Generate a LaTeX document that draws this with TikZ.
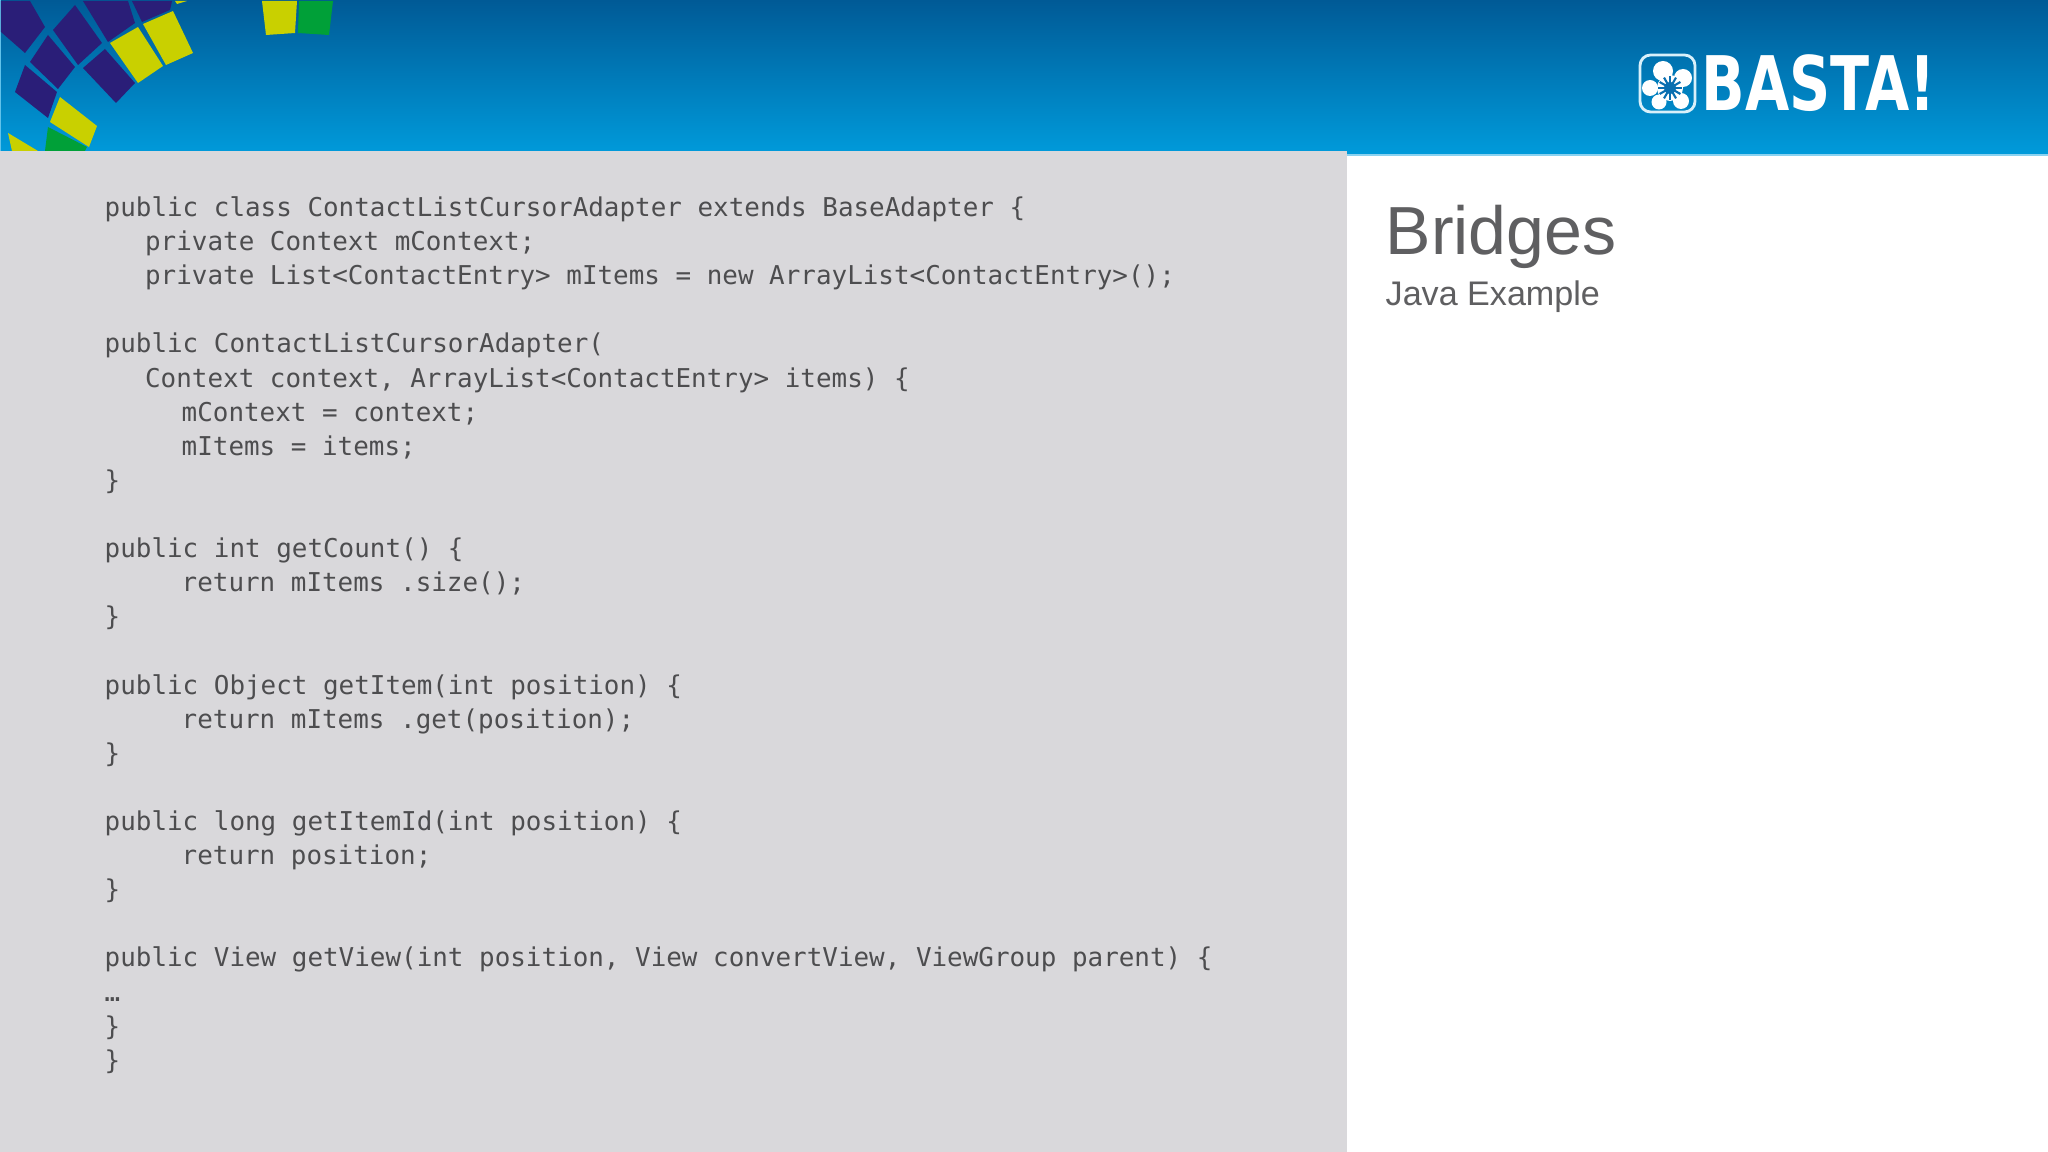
\documentclass[tikz,border=0pt]{standalone}
\usepackage{fontspec}
\setmainfont{Liberation Sans}
\setmonofont{DejaVu Sans Mono}
\newfontfamily\logofont{DejaVu Sans}
\definecolor{headtop}{HTML}{005A96}
\definecolor{headbot}{HTML}{009BDB}
\definecolor{headedge}{HTML}{8AD2F0}
\definecolor{panel}{HTML}{D9D8DB}
\definecolor{ink}{HTML}{4D4D4F}
\definecolor{navy}{HTML}{2A1E78}
\definecolor{lime}{HTML}{C9D000}
\definecolor{leaf}{HTML}{00A038}
\definecolor{logoblue}{HTML}{0A6FB0}
\tikzset{
	codetext/.style={anchor=north west,align=left,inner sep=0pt,text=ink,font=\ttfamily\fontsize{7.37}{9.7}\selectfont},
	titletext/.style={anchor=base west,inner sep=0pt,text=ink!90!white},
	petal/.style={fill=white,draw=none}
}
\newcommand{\indA}{\hspace*{11.5pt}}
\newcommand{\indB}{\hspace*{21.9pt}}
\begin{document}
\begin{tikzpicture}[x=0.01cm,y=-0.01cm]
	\useasboundingbox (0,0) rectangle (2048,1152);
	% header
	\shade[top color=headtop,bottom color=headbot] (0,0) rectangle (2048,155);
	\fill[headedge] (1347,154.5) rectangle (2048,156.5);
	\fill[headedge!70!headbot] (0,0) rectangle (1.2,151);
	\fill[white] (1347,156.5) rectangle (2048,1152);
	\fill[panel] (0,151) rectangle (1347,1152);
	% mosaic
	\fill[navy] (1,1)--(30,1)--(45,27)--(25,53)--(1,32)--cycle;
	\fill[navy] (75,5)--(102,43)--(78,65)--(53,30)--cycle;
	\fill[navy] (83,1)--(128,1)--(135,23)--(108,42)--cycle;
	\fill[navy] (132,1)--(172,1)--(170,10)--(142,22)--cycle;
	\fill[navy] (48,35)--(75,67)--(58,89)--(30,62)--cycle;
	\fill[navy] (105,49)--(135,83)--(116,103)--(83,68)--cycle;
	\fill[navy] (25,65)--(57,92)--(48,118)--(15,92)--cycle;
	\fill[lime] (110,43)--(138,27)--(163,66)--(138,83)--cycle;
	\fill[lime] (143,24)--(173,11)--(193,53)--(166,65)--cycle;
	\fill[lime] (60,97)--(97,126)--(89,147)--(50,122)--cycle;
	\fill[lime] (8,133)--(38,151)--(12,151)--cycle;
	\fill[lime] (175,1)--(187,1)--(177,4)--cycle;
	\fill[lime] (262,1)--(297,1)--(295,33)--(266,35)--cycle;
	\fill[leaf] (48,127)--(87,147)--(85,151)--(45,151)--cycle;
	\fill[leaf] (299,1)--(333,1)--(329,35)--(298,33)--cycle;
	% logo
	\draw[white!85!headbot,line width=0.8pt,rounded corners=3pt] (1640,55) rectangle (1695,112);
	\fill[petal] (1663,71) circle (10);
	\fill[petal] (1683,78) circle (9);
	\fill[petal] (1650,88) circle (8);
	\fill[petal] (1659,102) circle (7.5);
	\fill[petal] (1681,101) circle (8);
	\fill[petal] (1670,88) circle (13);
	\foreach \a in {0,30,...,330}
		\draw[logoblue,line width=0.6pt] (1670,88)--++(\a:12);
	\fill[logoblue] (1670,88) circle (6);
	\node[anchor=west,inner sep=0pt,text=white,font=\logofont\bfseries\fontsize{21.4}{21.4}\selectfont,xscale=0.76,transform shape] (logo) at (1701,83) {BASTA!};
	% code
	\node[codetext] (code) at (104,196) {%
public class ContactListCursorAdapter extends BaseAdapter \{\\
\indA private Context mContext;\\
\indA private List<ContactEntry> mItems = new ArrayList<ContactEntry>();\\
\mbox{}\\
public ContactListCursorAdapter(\\
\indA Context context, ArrayList<ContactEntry> items) \{\\
\indB mContext = context;\\
\indB mItems = items;\\
\}\\
\mbox{}\\
public int getCount() \{\\
\indB return mItems .size();\\
\}\\
\mbox{}\\
public Object getItem(int position) \{\\
\indB return mItems .get(position);\\
\}\\
\mbox{}\\
public long getItemId(int position) \{\\
\indB return position;\\
\}\\
\mbox{}\\
public View getView(int position, View convertView, ViewGroup parent) \{\\
…\\
\}\\
\}};
	% title
	\node[titletext,font=\fontsize{19.35}{19.35}\selectfont] (title) at (1385,255) {Bridges};
	\node[titletext,font=\fontsize{9.7}{9.7}\selectfont] (subtitle) at (1385,306) {Java Example};
\end{tikzpicture}
\end{document}
